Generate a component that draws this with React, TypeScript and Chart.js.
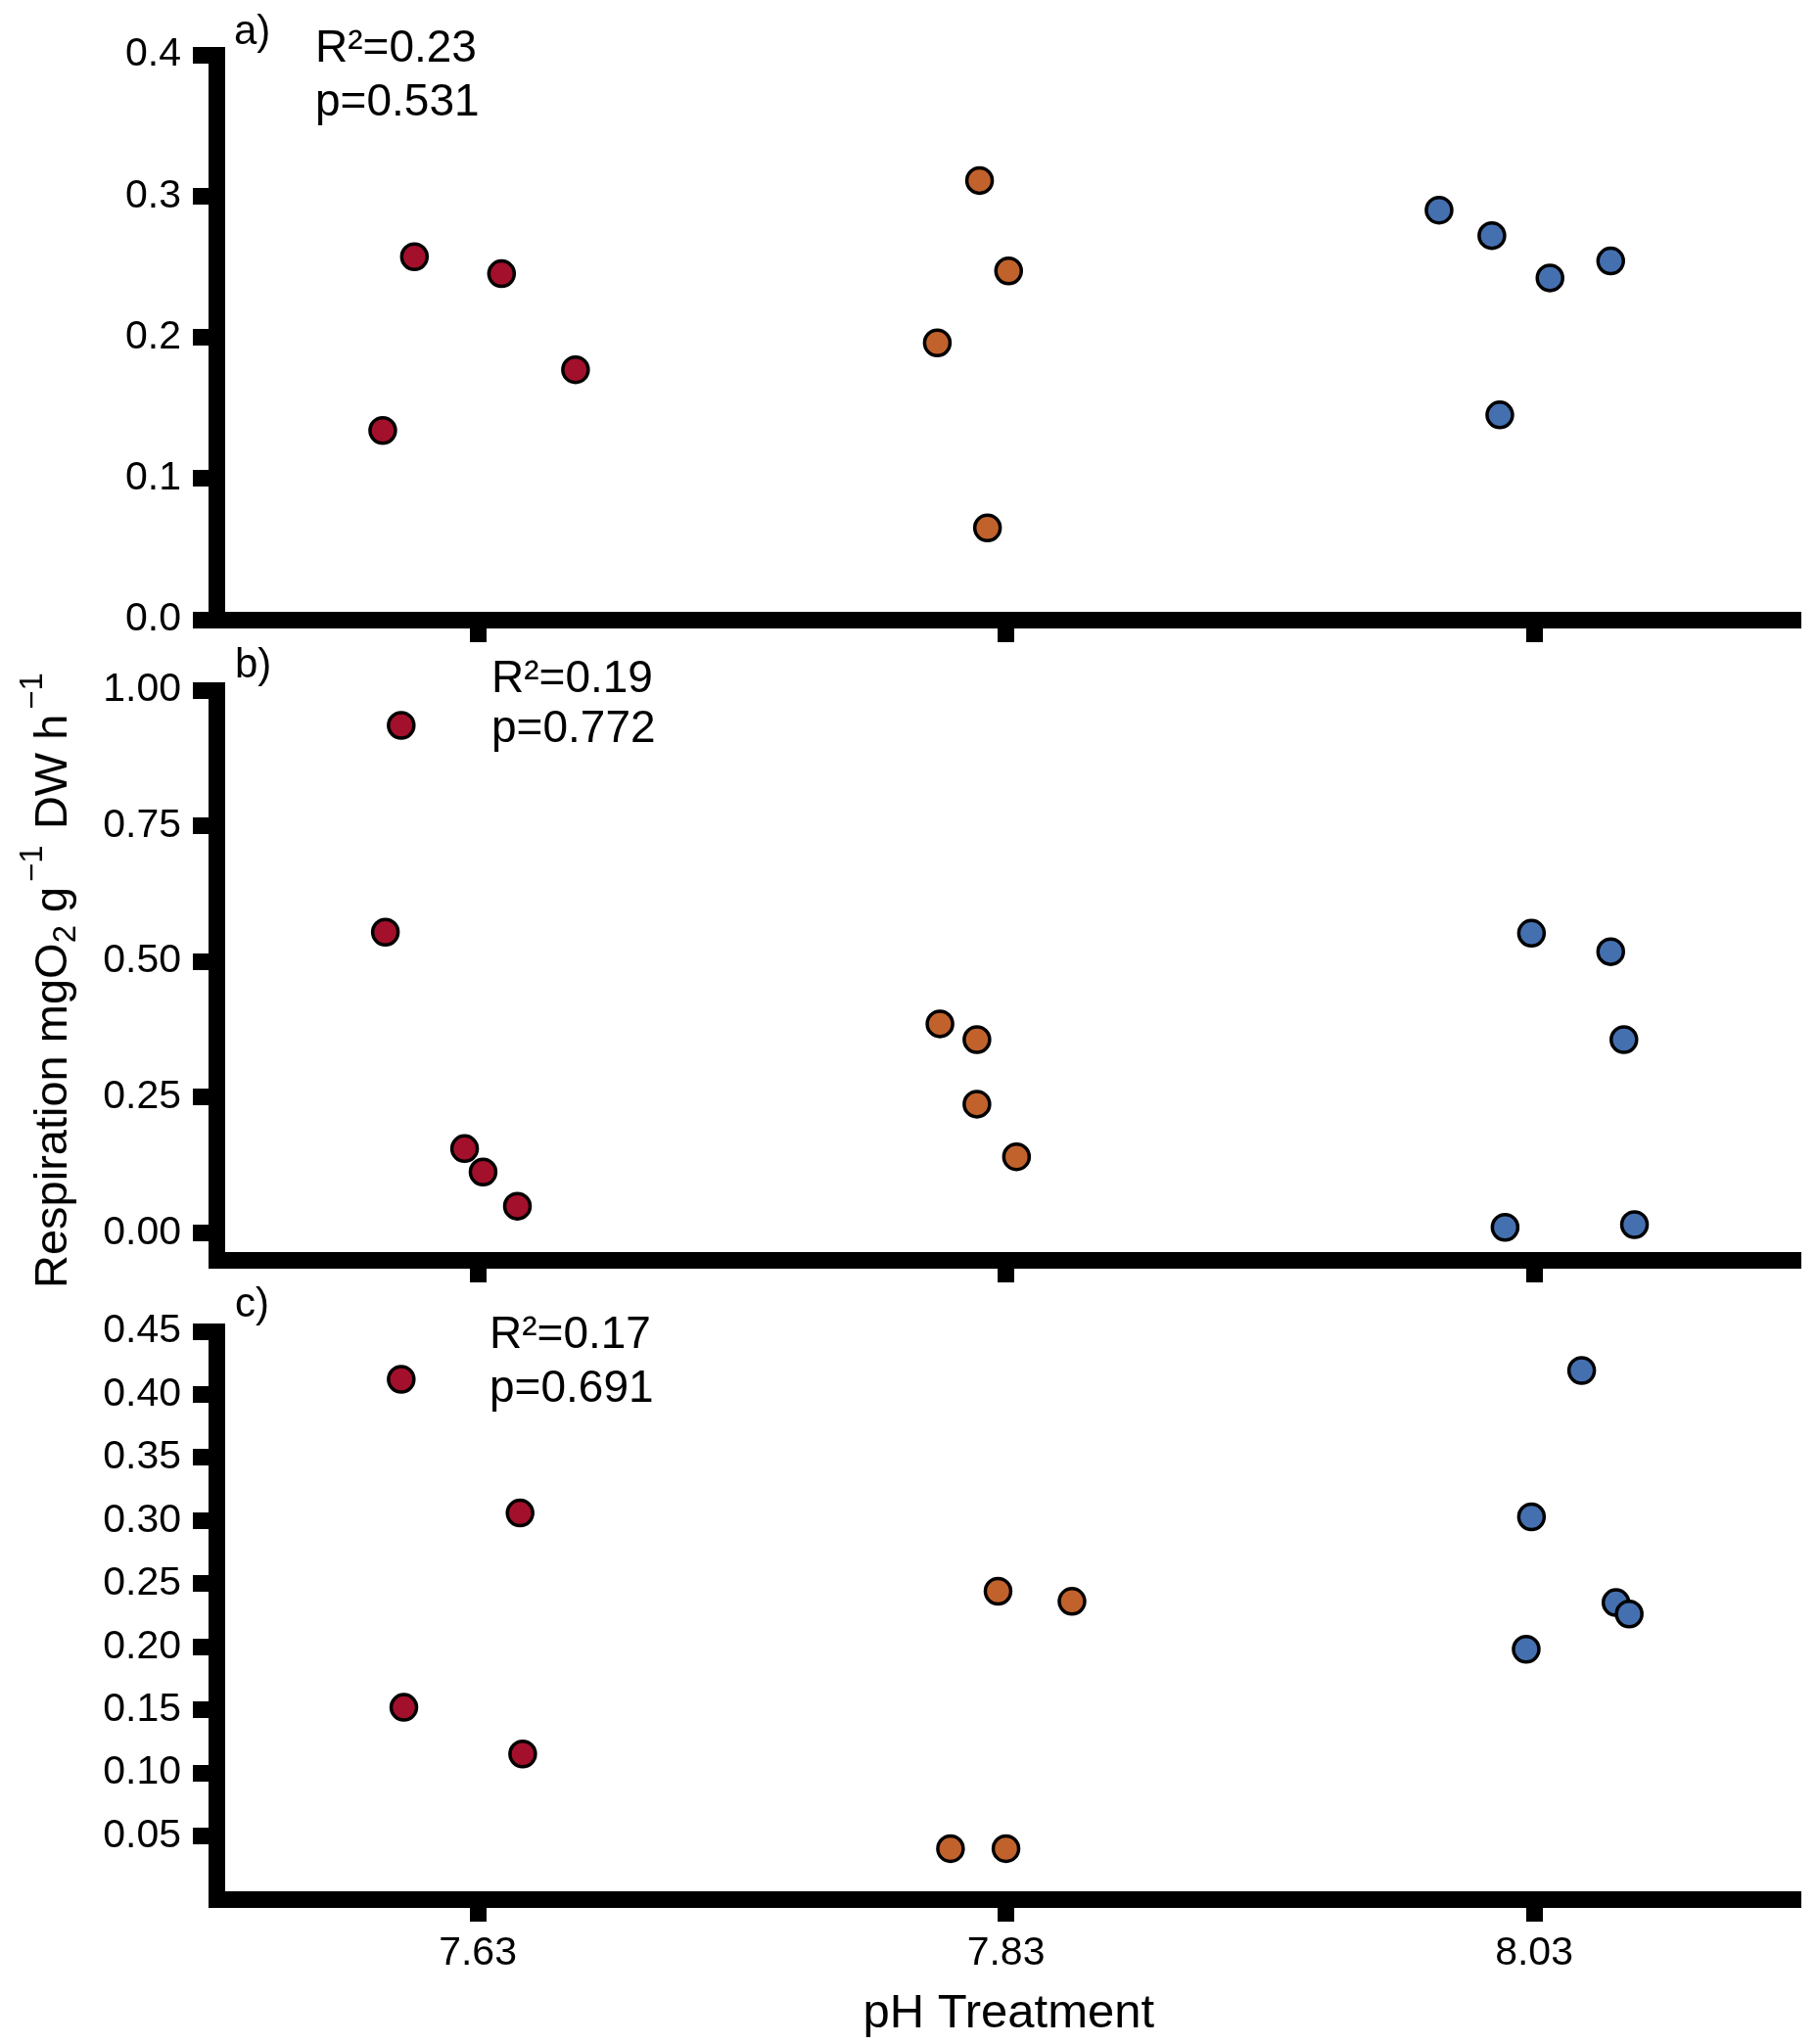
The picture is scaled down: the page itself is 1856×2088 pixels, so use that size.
import { useEffect, useRef } from 'react';
import Chart from 'chart.js/auto';

const FONT = '"Liberation Sans", Arial, Helvetica, sans-serif';
const RED = '#a3102b';
const ORANGE = '#c1622c';
const BLUE = '#4470b0';

// shared pH axis
const X_MIN = 7.531;
const X_MAX = 8.131;
const X_TICKS = [7.63, 7.83, 8.03];

// panel a
const A_Y_TICKS = [0, 0.1, 0.2, 0.3, 0.4];
const A_RED_X = [7.594, 7.606, 7.639, 7.667];
const A_RED_Y = [0.134, 0.257, 0.245, 0.177];
const A_ORANGE_X = [7.820, 7.831, 7.804, 7.823];
const A_ORANGE_Y = [0.311, 0.247, 0.196, 0.065];
const A_BLUE_X = [7.994, 8.014, 8.036, 8.059, 8.017];
const A_BLUE_Y = [0.290, 0.272, 0.242, 0.254, 0.145];
const A_STATS = ['R²=0.23', 'p=0.531'];

// panel b
const B_Y_TICKS = [0, 0.25, 0.5, 0.75, 1.0];
const B_RED_X = [7.601, 7.595, 7.625, 7.632, 7.645];
const B_RED_Y = [0.935, 0.554, 0.155, 0.112, 0.049];
const B_ORANGE_X = [7.805, 7.819, 7.819, 7.834];
const B_ORANGE_Y = [0.385, 0.356, 0.237, 0.140];
const B_BLUE_X = [8.029, 8.059, 8.064, 8.019, 8.068];
const B_BLUE_Y = [0.552, 0.518, 0.356, 0.010, 0.015];
const B_STATS = ['R²=0.19', 'p=0.772'];

// panel c
const C_Y_TICKS = [0.05, 0.1, 0.15, 0.2, 0.25, 0.3, 0.35, 0.4, 0.45];
const C_RED_X = [7.601, 7.646, 7.602, 7.647];
const C_RED_Y = [0.412, 0.306, 0.152, 0.115];
const C_ORANGE_X = [7.827, 7.855, 7.809, 7.830];
const C_ORANGE_Y = [0.244, 0.236, 0.040, 0.040];
const C_BLUE_X = [8.048, 8.029, 8.061, 8.066, 8.027];
const C_BLUE_Y = [0.419, 0.303, 0.235, 0.226, 0.198];
const C_STATS = ['R²=0.17', 'p=0.691'];

const pts = (xs, ys) => xs.map((x, i) => ({ x, y: ys[i] }));

const dot = (data, color) => ({
  data,
  backgroundColor: color,
  borderColor: '#000',
  borderWidth: 3.5,
  pointRadius: 13,
  pointHoverRadius: 13,
  showLine: false,
});

const Panel = ({ top, height, padTop, xHeight, yMin, yMax, yTicks, decimals, red, orange, blue, letter, letterPos, stats, statsPos, showX }) => {
  const canvasRef = useRef(null);

  useEffect(() => {
    const panelText = {
      id: 'panelText',
      afterDraw(chart) {
        const ctx = chart.ctx;
        ctx.save();
        ctx.fillStyle = '#000';
        ctx.textAlign = 'left';
        ctx.textBaseline = 'alphabetic';
        ctx.font = `42px ${FONT}`;
        ctx.fillText(letter, letterPos[0], letterPos[1]);
        ctx.font = `46px ${FONT}`;
        stats.forEach((s, i) => ctx.fillText(s, statsPos[0], statsPos[1] + i * statsPos[2]));
        ctx.restore();
      },
    };

    const axisGrid = (len) => ({
      display: true,
      drawOnChartArea: false,
      drawTicks: true,
      tickLength: len,
      tickWidth: 17,
      tickColor: '#000',
      lineWidth: 1,
      color: '#000',
    });

    const chart = new Chart(canvasRef.current, {
      type: 'scatter',
      data: {
        datasets: [dot(red, RED), dot(orange, ORANGE), dot(blue, BLUE)],
      },
      options: {
        animation: false,
        responsive: false,
        maintainAspectRatio: false,
        layout: { padding: { top: padTop, right: 8, bottom: 0, left: 0 } },
        plugins: {
          legend: { display: false },
          tooltip: { enabled: false },
        },
        scales: {
          x: {
            type: 'linear',
            position: 'bottom',
            min: X_MIN,
            max: X_MAX,
            bounds: 'data',
            afterBuildTicks: (s) => {
              s.ticks = X_TICKS.map((value) => ({ value }));
            },
            afterFit: (s) => {
              s.height = xHeight;
            },
            border: { display: true, color: '#000', width: 17 },
            grid: axisGrid(23),
            ticks: {
              autoSkip: false,
              maxRotation: 0,
              padding: 8,
              color: '#000',
              font: { family: FONT, size: 41 },
              callback: (v) => (showX ? Number(v).toFixed(2) : ''),
            },
            title: {
              display: showX,
              text: 'pH Treatment',
              color: '#000',
              font: { family: FONT, size: 49, lineHeight: 1 },
              padding: { top: 0, bottom: 6 },
            },
          },
          y: {
            type: 'linear',
            position: 'left',
            min: yMin,
            max: yMax,
            bounds: 'data',
            afterBuildTicks: (s) => {
              s.ticks = yTicks.map((value) => ({ value }));
            },
            afterFit: (s) => {
              s.width = 221;
            },
            border: { display: true, color: '#000', width: 17 },
            grid: axisGrid(24),
            ticks: {
              autoSkip: false,
              padding: 12,
              color: '#000',
              font: { family: FONT, size: 41 },
              callback: (v) => Number(v).toFixed(decimals),
            },
          },
        },
      },
      plugins: [panelText],
    });

    return () => {
      chart.destroy();
    };
  }, []);

  return (
    <canvas
      ref={canvasRef}
      width={1856}
      height={height}
      style={{ position: 'absolute', left: 0, top, width: 1856, height }}
    />
  );
};

const sub = { fontSize: '0.7em', position: 'relative', top: '0.28em' } as const;
const sup = { fontSize: '0.7em', position: 'relative', top: '-0.75em', marginLeft: '0.15em', marginRight: '0.1em' } as const;

export default function App() {
  return (
    <div style={{ position: 'absolute', left: 0, top: 0, width: 1856, height: 2088, overflow: 'hidden', background: '#fff' }}>
      <Panel
        top={0}
        height={680}
        padTop={56}
        xHeight={47}
        yMin={0}
        yMax={0.4}
        yTicks={A_Y_TICKS}
        decimals={1}
        red={pts(A_RED_X, A_RED_Y)}
        orange={pts(A_ORANGE_X, A_ORANGE_Y)}
        blue={pts(A_BLUE_X, A_BLUE_Y)}
        letter="a)"
        letterPos={[239, 45]}
        stats={A_STATS}
        statsPos={[322, 63, 55]}
        showX={false}
      />
      <Panel
        top={640}
        height={700}
        padTop={65}
        xHeight={53}
        yMin={-0.05}
        yMax={1.0}
        yTicks={B_Y_TICKS}
        decimals={2}
        red={pts(B_RED_X, B_RED_Y)}
        orange={pts(B_ORANGE_X, B_ORANGE_Y)}
        blue={pts(B_BLUE_X, B_BLUE_Y)}
        letter="b)"
        letterPos={[240, 52]}
        stats={B_STATS}
        statsPos={[502, 67, 51]}
        showX={false}
      />
      <Panel
        top={1300}
        height={788}
        padTop={60}
        xHeight={148}
        yMin={0}
        yMax={0.45}
        yTicks={C_Y_TICKS}
        decimals={2}
        red={pts(C_RED_X, C_RED_Y)}
        orange={pts(C_ORANGE_X, C_ORANGE_Y)}
        blue={pts(C_BLUE_X, C_BLUE_Y)}
        letter="c)"
        letterPos={[240, 45]}
        stats={C_STATS}
        statsPos={[500, 77, 55]}
        showX={true}
      />
      <div
        style={{
          position: 'absolute',
          left: 54,
          top: 1000,
          transform: 'translate(-50%, -50%) rotate(-90deg)',
          whiteSpace: 'nowrap',
          fontFamily: FONT,
          fontSize: 47,
          lineHeight: '47px',
          color: '#000',
        }}
      >
        Respiration mgO<span style={sub}>2</span> g<span style={sup}>−1</span> DW h<span style={sup}>−1</span>
      </div>
    </div>
  );
}
